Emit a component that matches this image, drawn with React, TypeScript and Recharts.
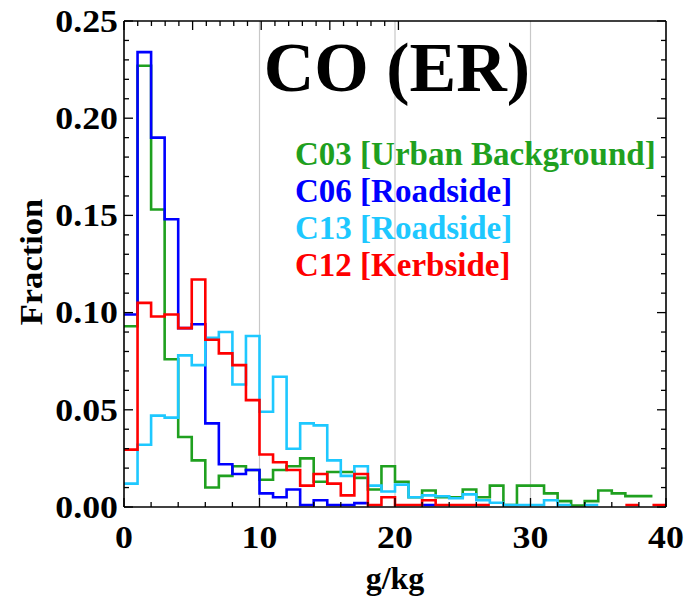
import React from "react";
import { LineChart, Line, XAxis, YAxis, ReferenceLine } from "recharts";

// histogram bins, 1 g/kg wide
const binStarts = [
  0, 1, 2, 3, 4, 5, 6, 7, 8, 9, 10, 11, 12, 13, 14, 15, 16, 17, 18, 19,
  20, 21, 22, 23, 24, 25, 26, 27, 28, 29, 30, 31, 32, 33, 34, 35, 36, 37, 38, 39,
];
const binWidth = 1;

const c03 = [
  0.093, 0.227, 0.153, 0.076, 0.036, 0.024, 0.01, 0.016, 0.021, 0.019,
  0.014, 0.019, 0.021, 0.025, 0.013, 0.018, 0.018, 0.015, 0.009, 0.021,
  0.013, 0.005, 0.0085, 0.005, 0.005, 0.009, 0.005, 0.011, 0.001, 0.011,
  0.011, 0.007, 0.003, 0.0008, 0.003, 0.0085, 0.007, 0.0056, 0.0056, 0,
];
const c06 = [
  0.099, 0.234, 0.19, 0.148, 0.092, 0.094, 0.043, 0.022, 0.017, 0.019,
  0.007, 0.005, 0.009, 0.001, 0.0035, 0.001, 0.001, 0.002, 0, 0,
  0, 0, 0.001, 0, 0, 0, 0, 0, 0, 0,
  0, 0, 0, 0, 0, 0, 0, 0, 0, 0,
];
const c13 = [
  0.012, 0.032, 0.047, 0.046, 0.078, 0.073, 0.087, 0.09, 0.063, 0.088,
  0.049, 0.067, 0.03, 0.043, 0.042, 0.024, 0.016, 0.021, 0.011, 0.008,
  0.0115, 0.005, 0.006, 0.0055, 0.0045, 0.0065, 0.0035, 0.0022, 0.001, 0.001,
  0.001, 0.0035, 0.001, 0, 0.001, 0, 0, 0, 0, 0,
];
const c12 = [
  0.0295, 0.105, 0.098, 0.099, 0.092, 0.117, 0.086, 0.079, 0.073, 0.055,
  0.027, 0.023, 0.019, 0.011, 0.017, 0.012, 0.006, 0.017, 0.001, 0.005,
  0.001, 0.001, 0.0035, 0.001, 0.001, 0.001, 0.001, 0, 0, 0,
  0, 0, 0, 0, 0, 0, 0, 0.001, 0, 0.001,
];

const series = [
  { key: "c03", label: "C03 [Urban Background]", values: c03, color: "#1fa01f" },
  { key: "c06", label: "C06 [Roadside]", values: c06, color: "#0000ff" },
  { key: "c13", label: "C13 [Roadside]", values: c13, color: "#1ec8ff" },
  { key: "c12", label: "C12 [Kerbside]", values: c12, color: "#ff0000" },
];

const xTicks = [0, 2, 4, 6, 8, 10, 12, 14, 16, 18, 20, 22, 24, 26, 28, 30, 32, 34, 36, 38, 40];
const yTicks = [
  0, 0.01, 0.02, 0.03, 0.04, 0.05, 0.06, 0.07, 0.08, 0.09, 0.1, 0.11, 0.12,
  0.13, 0.14, 0.15, 0.16, 0.17, 0.18, 0.19, 0.2, 0.21, 0.22, 0.23, 0.24, 0.25,
];
const gridX = [10, 20, 30];

// two points per bin (left and right edge) so a linear line traces the
// histogram outline; empty bins become gaps like in the original plot
const rows: Record<string, number | null>[] = [];
binStarts.forEach((lo, i) => {
  const left: Record<string, number | null> = { x: lo };
  const right: Record<string, number | null> = { x: lo + binWidth };
  series.forEach((s) => {
    const v = s.values[i] > 0 ? s.values[i] : null;
    left[s.key] = v;
    right[s.key] = v;
  });
  rows.push(left, right);
});

const serif = "'Liberation Serif', 'Times New Roman', serif";
const tickText = { fontFamily: serif, fontWeight: 700, fontSize: 32, fill: "#000" };
const stretch = 1.12;

const isMajorX = (v: number) => v % 10 === 0;
const isMajorY = (v: number) => Math.round(v * 100) % 5 === 0;

const BottomTick = ({ x, y, payload }: any) => {
  const major = isMajorX(payload.value);
  return (
    <g>
      <line x1={x} x2={x} y1={y} y2={y - (major ? 9 : 5)} stroke="#000" strokeWidth={1.3} />
      {major && (
        <text transform={`translate(${x},${y + 41}) scale(${stretch},1)`} textAnchor="middle" style={tickText}>
          {payload.value}
        </text>
      )}
    </g>
  );
};

const TopTick = ({ x, y, payload }: any) => (
  <line x1={x} x2={x} y1={y} y2={y + (isMajorX(payload.value) ? 9 : 5)} stroke="#000" strokeWidth={1.3} />
);

const LeftTick = ({ x, y, payload }: any) => {
  const major = isMajorY(payload.value);
  return (
    <g>
      <line x1={x} x2={x + (major ? 9 : 5)} y1={y} y2={y} stroke="#000" strokeWidth={1.3} />
      {major && (
        <text
          transform={`translate(${x - 6},${y}) scale(${stretch},1)`}
          dy="0.34em"
          textAnchor="end"
          style={tickText}
        >
          {payload.value.toFixed(2)}
        </text>
      )}
    </g>
  );
};

const RightTick = ({ x, y, payload }: any) => (
  <line x1={x} x2={x - (isMajorY(payload.value) ? 9 : 5)} y1={y} y2={y} stroke="#000" strokeWidth={1.3} />
);

const frame = { stroke: "#000", strokeWidth: 1.6 };

export default function App() {
  return (
    <div style={{ position: "absolute", left: 0, top: 0, width: 687, height: 600 }}>
      <LineChart width={687} height={600} data={rows} margin={{ top: 20, right: 20, bottom: 0, left: 0 }}>
        <XAxis
          dataKey="x"
          type="number"
          domain={[0, 40]}
          ticks={xTicks}
          interval={0}
          allowDataOverflow
          height={93}
          tickSize={0}
          tickMargin={0}
          tickLine={false}
          axisLine={frame}
          tick={BottomTick}
        />
        <XAxis
          xAxisId="top"
          orientation="top"
          type="number"
          domain={[0, 40]}
          ticks={xTicks}
          interval={0}
          allowDataOverflow
          height={1}
          tickSize={0}
          tickMargin={0}
          tickLine={false}
          axisLine={frame}
          tick={TopTick}
        />
        <YAxis
          type="number"
          domain={[0, 0.25]}
          ticks={yTicks}
          interval={0}
          allowDataOverflow
          width={124}
          tickSize={0}
          tickMargin={0}
          tickLine={false}
          axisLine={frame}
          tick={LeftTick}
        />
        <YAxis
          yAxisId="right"
          orientation="right"
          type="number"
          domain={[0, 0.25]}
          ticks={yTicks}
          interval={0}
          allowDataOverflow
          width={1}
          tickSize={0}
          tickMargin={0}
          tickLine={false}
          axisLine={frame}
          tick={RightTick}
        />
        {gridX.map((g) => (
          <ReferenceLine key={g} x={g} stroke="#c8c8c8" strokeWidth={1.2} />
        ))}
        {series.map((s) => (
          <Line
            key={s.key}
            dataKey={s.key}
            name={s.label}
            type="linear"
            stroke={s.color}
            strokeWidth={2.6}
            dot={false}
            activeDot={false}
            connectNulls={false}
            isAnimationActive={false}
          />
        ))}
      </LineChart>

      <div
        style={{
          position: "absolute",
          left: 197,
          width: 400,
          top: 33,
          textAlign: "center",
          fontFamily: serif,
          fontWeight: 700,
          fontSize: 70,
          lineHeight: "70px",
          whiteSpace: "nowrap",
        }}
      >
        CO (ER)
      </div>

      <div style={{ position: "absolute", left: 295, top: 136, fontFamily: serif, fontWeight: 700, fontSize: 33, lineHeight: "36.9px" }}>
        {series.map((s) => (
          <div key={s.key} style={{ color: s.color, whiteSpace: "nowrap" }}>
            {s.label}
          </div>
        ))}
      </div>

      <div
        style={{
          position: "absolute",
          left: 31,
          top: 262,
          transform: "translate(-50%, -50%) rotate(-90deg) scale(1.08, 1)",
          fontFamily: serif,
          fontWeight: 700,
          fontSize: 32,
          lineHeight: "32px",
          whiteSpace: "nowrap",
        }}
      >
        Fraction
      </div>

      <div
        style={{
          position: "absolute",
          left: 295,
          width: 200,
          top: 562,
          textAlign: "center",
          fontFamily: serif,
          fontWeight: 700,
          fontSize: 32,
          lineHeight: "32px",
        }}
      >
        g/kg
      </div>
    </div>
  );
}
